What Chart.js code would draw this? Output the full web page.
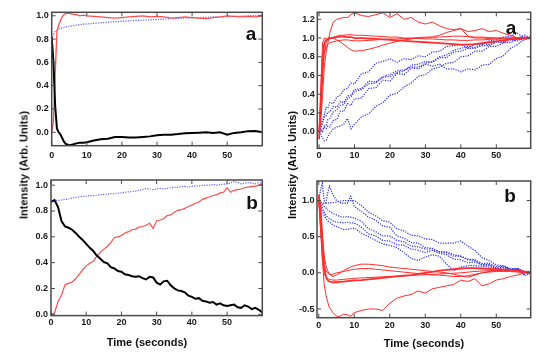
<!DOCTYPE html>
<html><head><meta charset="utf-8">
<script src="https://cdn.jsdelivr.net/npm/chart.js@4.4.1/dist/chart.umd.min.js"></script>
<style>
html,body{margin:0;padding:0;background:#fff;width:554px;height:355px;overflow:hidden;position:relative;}
canvas{position:absolute;}
.t{position:absolute;font-family:'Liberation Sans',Arial,Helvetica,sans-serif;font-weight:bold;color:#111;white-space:nowrap;line-height:1;}
.yt{font-size:11px;transform:translate(-50%,-50%) rotate(-90deg);}
.xt{font-size:11px;transform:translate(-50%,-50%);}
.lab{font-size:19px;transform:translate(-50%,-50%);}
</style></head><body>
<canvas id="c1" width="270" height="170" style="left:0;top:0"></canvas>
<canvas id="c2" width="270" height="185" style="left:0;top:170px"></canvas>
<canvas id="c3" width="274" height="170" style="left:280px;top:0"></canvas>
<canvas id="c4" width="274" height="185" style="left:280px;top:170px"></canvas>
<div class="t yt" style="left:24px;top:165px">Intensity (Arb. Units)</div>
<div class="t yt" style="left:292px;top:165px">Intensity (Arb. Units)</div>
<div class="t xt" style="left:147px;top:342px">Time (seconds)</div>
<div class="t xt" style="left:424px;top:343px">Time (seconds)</div>
<div class="t lab" style="left:251px;top:33px">a</div>
<div class="t lab" style="left:511px;top:27px">a</div>
<div class="t lab" style="left:252px;top:202px">b</div>
<div class="t lab" style="left:510px;top:195px">b</div>
<script>
// ---------- tick labels ----------
const xTicks = [0, 10, 20, 30, 40, 50];
const yTicksTL = [0.0, 0.2, 0.4, 0.6, 0.8, 1.0];
const yTicksBL = [0.0, 0.2, 0.4, 0.6, 0.8, 1.0];
const yTicksTR = [0.0, 0.2, 0.4, 0.6, 0.8, 1.0, 1.2];
const yTicksBR = [-0.5, 0.0, 0.5, 1.0];

// ---------- panel a (left) ----------
const tA = [0,0.5,1,1.5,2,2.5,3,3.5,4,5,6,7,8,9,10,12,14,16,18,20,22,24,26,28,30,32,34,36,38,40,42,44,46,48,50,52,54,56,58,60];
const tlRed = [0,0.1,0.5,0.87,0.92,0.96,0.99,1.01,1.02,1.02,1.015,1.01,1.0,1.005,1.0,0.995,0.99,0.985,0.98,0.985,0.99,0.995,1.0,0.99,0.995,0.99,0.98,0.985,0.99,0.985,0.98,0.975,0.985,0.99,1.0,0.995,0.99,0.995,0.99,1.0];
const tlBlue = [0.80,0.84,0.865,0.875,0.885,0.89,0.895,0.9,0.905,0.91,0.915,0.92,0.925,0.928,0.93,0.935,0.94,0.945,0.95,0.953,0.956,0.96,0.962,0.965,0.968,0.972,0.975,0.978,0.98,0.982,0.985,0.987,0.99,0.99,0.992,0.995,0.997,1.0,1.002,1.005];
const tlBlack = [0.82,0.6,0.22,0.03,0.0,-0.02,-0.05,-0.08,-0.1,-0.11,-0.105,-0.095,-0.09,-0.09,-0.085,-0.07,-0.06,-0.055,-0.04,-0.04,-0.045,-0.045,-0.04,-0.035,-0.025,-0.02,-0.02,-0.015,-0.008,-0.005,-0.003,0.0,-0.005,0.0,-0.02,-0.005,0.0,0.01,0.012,0.0];

// ---------- panel b (left) ----------
const tB = [0,1,2,3,4,5,6,7,8,9,10,11,12,13,14,15,16,17,18,19,20,21,22,23,24,25,26,27,28,29,30,31,32,33,34,35,36,37,38,39,40,41,42,43,44,45,46,47,48,49,50,51,52,53,54,55,56,57,58,59,60];
const blBlack = [0.87,0.885,0.83,0.72,0.68,0.67,0.655,0.63,0.6,0.575,
  0.545,0.515,0.49,0.455,0.43,0.405,0.395,0.365,0.355,0.335,
  0.33,0.31,0.305,0.295,0.29,0.295,0.28,0.27,0.29,0.285,
  0.245,0.23,0.255,0.26,0.225,0.2,0.185,0.18,0.17,0.145,
  0.135,0.12,0.125,0.105,0.1,0.09,0.095,0.075,0.085,0.07,
  0.065,0.07,0.075,0.055,0.05,0.07,0.06,0.04,0.05,0.035,0.015];
const blRed = [0.0,0.01,0.1,0.15,0.23,0.24,0.25,0.275,0.31,0.345,
  0.375,0.395,0.41,0.45,0.48,0.505,0.525,0.555,0.595,0.6,
  0.61,0.63,0.64,0.655,0.66,0.675,0.68,0.69,0.705,0.665,
  0.725,0.73,0.74,0.765,0.77,0.79,0.805,0.81,0.82,0.835,
  0.845,0.86,0.87,0.89,0.9,0.91,0.92,0.925,0.94,0.945,
  0.98,0.945,0.96,0.965,0.97,0.98,0.985,0.99,0.99,1.0,1.01];
const blBlue = [0.875,0.88,0.882,0.885,0.89,0.893,0.9,0.905,0.91,0.912,
  0.915,0.92,0.918,0.922,0.925,0.928,0.93,0.935,0.932,0.938,
  0.94,0.945,0.948,0.95,0.955,0.96,0.965,0.975,0.97,0.965,
  0.97,0.975,0.972,0.975,0.98,0.985,0.982,0.99,0.99,0.985,
  0.99,0.995,0.993,0.998,1.0,1.0,1.005,1.0,1.005,1.008,
  1.01,1.015,1.03,1.02,1.01,1.015,1.02,1.015,1.01,1.02,1.015];

// ---------- right panels ----------
const tR = [0,0.5,1,1.5,2,2.5,3,4,5,6,7,8,9,10,12,14,16,18,20,22,24,26,28,30,32,34,36,38,40,42,44,46,48,50,52,54,56,58,60];
const trRed1 = [0,0.1,0.4,0.7,0.85,0.95,1.05,1.17,1.2,1.21,1.22,1.22,1.25,1.27,1.24,1.23,1.25,1.27,1.22,1.26,1.2,1.22,1.17,1.15,1.17,1.13,1.1,1.09,1.1,1.07,1.08,1.1,1.07,1.08,1.05,1.03,1.0,1.01,1.0];
const trRed2 = [0,0.2,0.6,0.85,0.95,1.0,1.0,1.0,0.98,0.96,0.93,0.9,0.875,0.86,0.865,0.88,0.9,0.925,0.945,0.965,0.98,0.99,1.0,1.0,1.01,1.03,1.06,1.08,1.1,1.02,1.0,1.0,0.995,1.0,1.0,1.0,1.0,1.0,1.0];
const trRed3 = [0,0.5,0.95,1.0,0.99,0.98,0.99,1.01,1.02,1.03,1.03,1.035,1.035,1.03,1.03,1.025,1.02,1.015,1.01,1.01,1.0,1.0,1.005,1.01,1.01,1.01,1.015,1.02,1.02,1.015,1.01,1.01,1.005,1.0,1.0,1.0,1.0,1.0,1.0];
const trRed4 = [0,0.3,0.7,0.85,0.9,0.93,0.95,0.96,0.97,0.975,0.98,0.98,0.975,0.97,0.97,0.975,0.98,0.985,0.99,0.99,0.995,0.995,0.995,0.99,0.99,0.985,0.98,0.98,0.975,0.975,0.98,0.98,0.985,0.99,0.99,0.995,1.0,1.0,1.0];
const trRed5 = [-0.08,0.3,0.8,0.95,0.98,0.99,1.0,1.0,1.01,1.015,1.015,1.01,1.01,1.0,1.0,0.995,0.99,0.985,0.98,0.975,0.97,0.965,0.96,0.955,0.95,0.945,0.94,0.935,0.93,0.93,0.935,0.945,0.955,0.965,0.975,0.985,0.99,1.0,1.0];
const trBlue1 = [0,0.04,0.12,0.18,0.26,0.25,0.31,0.3,0.37,0.39,0.45,0.46,0.52,0.51,0.62,0.64,0.73,0.75,0.78,0.74,0.78,0.77,0.81,0.8,0.85,0.86,0.91,0.92,0.93,0.89,0.94,0.93,0.97,0.98,1.01,1.02,1.05,1.0,1.0];
const trBlue2 = [0,-0.03,-0.07,-0.1,-0.09,-0.05,-0.02,0.03,0.05,0.06,0.08,0.14,0.03,0.08,0.16,0.19,0.27,0.31,0.39,0.41,0.48,0.52,0.59,0.61,0.67,0.69,0.73,0.74,0.8,0.81,0.86,0.86,0.91,0.91,0.95,0.95,0.99,0.98,1.0];
const trBlue3 = [0,0.02,0.0,0.05,0.03,0.06,0.05,0.12,0.13,0.22,0.22,0.3,0.28,0.35,0.36,0.46,0.47,0.55,0.54,0.62,0.61,0.68,0.67,0.72,0.7,0.72,0.67,0.67,0.64,0.67,0.66,0.71,0.72,0.78,0.81,0.89,0.93,0.99,1.0];
const trBlue4 = [0,0.06,0.09,0.16,0.17,0.21,0.21,0.27,0.26,0.32,0.31,0.38,0.39,0.45,0.46,0.54,0.53,0.58,0.59,0.63,0.65,0.71,0.72,0.75,0.74,0.79,0.79,0.85,0.86,0.89,0.89,0.92,0.92,0.96,0.96,1.0,1.0,1.03,1.0];
const trBlue5 = [0,0.01,0.02,0.06,0.07,0.13,0.14,0.21,0.23,0.28,0.29,0.35,0.37,0.43,0.45,0.51,0.52,0.59,0.61,0.65,0.66,0.69,0.69,0.73,0.75,0.8,0.82,0.87,0.89,0.91,0.9,0.94,0.93,0.96,0.95,0.98,0.97,1.01,1.0];

const brRed1 = [1.0,0.7,0.2,-0.15,-0.3,-0.4,-0.48,-0.55,-0.6,-0.6,-0.57,-0.58,-0.6,-0.55,-0.52,-0.5,-0.5,-0.52,-0.42,-0.35,-0.32,-0.3,-0.25,-0.28,-0.22,-0.2,-0.18,-0.16,-0.1,-0.12,-0.08,-0.18,-0.15,-0.1,-0.08,-0.05,-0.03,0.0,0.01];
const brRed2 = [1.0,0.8,0.5,0.25,0.1,0.03,-0.02,-0.05,-0.03,0.0,0.03,0.06,0.08,0.1,0.12,0.12,0.11,0.1,0.08,0.07,0.06,0.05,0.04,0.03,0.02,0.01,0.0,-0.02,-0.04,-0.06,-0.03,0.0,0.02,0.03,0.03,0.03,0.02,0.02,0.01];
const brRed3 = [1.0,0.6,0.3,0.1,0.03,0.0,-0.02,-0.02,0.0,0.01,0.02,0.03,0.04,0.05,0.06,0.06,0.05,0.04,0.03,0.02,0.01,0.0,-0.01,-0.02,-0.03,-0.03,-0.04,-0.05,-0.05,-0.04,-0.02,0.0,0.01,0.02,0.02,0.02,0.01,0.0,0.0];
const brRed4 = [1.05,0.6,0.2,0.0,-0.06,-0.08,-0.09,-0.1,-0.1,-0.095,-0.09,-0.085,-0.08,-0.075,-0.07,-0.065,-0.06,-0.055,-0.05,-0.045,-0.04,-0.035,-0.03,-0.025,-0.02,-0.015,-0.01,-0.005,0.0,0.01,0.02,0.025,0.03,0.035,0.03,0.03,0.025,0.02,0.02];
const brRed5 = [1.08,0.9,0.5,0.1,-0.05,-0.1,-0.12,-0.13,-0.13,-0.125,-0.12,-0.115,-0.11,-0.105,-0.1,-0.09,-0.08,-0.07,-0.06,-0.05,-0.04,-0.03,-0.015,0.0,0.015,0.03,0.04,0.05,0.06,0.065,0.065,0.06,0.055,0.05,0.045,0.04,0.03,0.015,0.0];
const brBlue1 = [1.0,1.15,1.24,1.0,0.97,1.1,1.2,1.08,1.0,0.97,0.96,0.96,1.06,0.92,0.85,0.77,0.73,0.65,0.63,0.51,0.48,0.42,0.41,0.35,0.34,0.29,0.29,0.25,0.23,0.19,0.18,0.13,0.13,0.09,0.09,0.05,0.06,0.02,0.0];
const brBlue2 = [1.0,0.98,0.97,0.96,0.96,0.96,0.97,0.97,0.98,0.99,1.0,1.0,1.0,1.0,0.93,0.84,0.79,0.72,0.7,0.61,0.58,0.52,0.51,0.47,0.46,0.41,0.41,0.41,0.44,0.37,0.31,0.21,0.17,0.11,0.1,0.06,0.05,0.01,0.0];
const brBlue3 = [1.0,0.97,0.95,0.92,0.9,0.87,0.85,0.82,0.8,0.78,0.77,0.78,0.77,0.76,0.71,0.61,0.57,0.51,0.51,0.45,0.43,0.37,0.36,0.33,0.33,0.29,0.28,0.23,0.23,0.18,0.17,0.11,0.11,0.07,0.08,0.05,0.06,0.01,0.0];
const brBlue4 = [1.0,0.95,0.9,0.85,0.8,0.77,0.75,0.72,0.7,0.7,0.69,0.7,0.69,0.69,0.63,0.54,0.51,0.45,0.44,0.39,0.38,0.33,0.31,0.28,0.31,0.27,0.25,0.19,0.18,0.14,0.15,0.11,0.11,0.06,0.07,0.04,0.05,-0.04,0.0];
const brBlue5 = [1.0,0.92,0.85,0.8,0.75,0.72,0.7,0.66,0.64,0.62,0.6,0.6,0.61,0.62,0.55,0.5,0.45,0.4,0.38,0.35,0.28,0.2,0.17,0.22,0.25,0.23,0.12,0.03,0.08,0.1,0.1,0.09,0.08,0.06,0.05,0.04,0.05,-0.02,0.0];

// ---------- drawing ----------
const FONT = {family: "'Liberation Sans', Arial, Helvetica, sans-serif", size: 9, weight: 'bold'};
function pts(t, v) { return t.map((x, i) => ({x: x, y: v[i]})); }
function line(t, v, color, w, dash) {
  return {data: pts(t, v), borderColor: color, borderWidth: w, borderDash: dash || [],
          pointRadius: 0, tension: 0, fill: false};
}
const framePlugin = {
  id: 'frame',
  afterDatasetsDraw(chart) {
    const {ctx, chartArea: a, scales: {x, y}} = chart;
    ctx.save();
    ctx.strokeStyle = '#4a4a4a';
    ctx.lineWidth = 1;
    ctx.beginPath();
    x.ticks.forEach(t => {
      const p = x.getPixelForValue(t.value);
      ctx.moveTo(p, a.bottom); ctx.lineTo(p, a.bottom - 4);
      ctx.moveTo(p, a.top); ctx.lineTo(p, a.top + 4);
    });
    y.ticks.forEach(t => {
      const p = y.getPixelForValue(t.value);
      ctx.moveTo(a.left, p); ctx.lineTo(a.left + 4, p);
      ctx.moveTo(a.right, p); ctx.lineTo(a.right - 4, p);
    });
    ctx.stroke();
    ctx.lineWidth = 1.5;
    ctx.strokeRect(a.left, a.top, a.right - a.left, a.bottom - a.top);
    ctx.restore();
  }
};
function panel(id, p) {
  new Chart(document.getElementById(id), {
    type: 'line',
    data: {datasets: p.datasets},
    plugins: [framePlugin],
    options: {
      responsive: false, animation: false, events: [], devicePixelRatio: 1,
      layout: {padding: {left: 0, top: p.top, right: p.right, bottom: 0}},
      plugins: {legend: {display: false}, tooltip: {enabled: false}},
      scales: {
        x: {type: 'linear', min: p.xMin, max: p.xMax,
            grid: {display: false, drawTicks: false}, border: {display: false},
            afterBuildTicks: s => { s.ticks = xTicks.map(v => ({value: v})); },
            afterFit: s => { s.height = p.xH; },
            ticks: {font: FONT, color: '#1a1a1a', padding: p.xPad, maxRotation: 0, autoSkip: false,
                    callback: v => String(v)}},
        y: {type: 'linear', min: p.yMin, max: p.yMax,
            grid: {display: false, drawTicks: false}, border: {display: false},
            afterBuildTicks: s => { s.ticks = p.yTicks.map(v => ({value: v})); },
            afterFit: s => { s.width = p.yW; },
            ticks: {font: FONT, color: '#1a1a1a', padding: p.yPad, autoSkip: false,
                    callback: v => Number(v).toFixed(1)}}
      }
    }
  });
}
const RED_L = '#ff4d4d', BLUE_L = '#6060ff', RED_R = '#ff2d2d', BLUE_R = '#2b2bf0';
const DOT = [1.2, 1.3];

panel('c1', {top: 12.3, right: 7.7, yW: 51.7, xH: 24.3, xPad: 4, yPad: 3,
  xMin: 0, xMax: 60, yMin: -0.115, yMax: 1.03, yTicks: yTicksTL,
  datasets: [line(tA, tlBlack, '#000', 2), line(tA, tlRed, RED_L, 1.3), line(tA, tlBlue, BLUE_L, 1.2, DOT)]});
panel('c2', {top: 10, right: 7.7, yW: 51, xH: 39.4, xPad: 2, yPad: 3,
  xMin: 0, xMax: 60, yMin: -0.01, yMax: 1.04, yTicks: yTicksBL,
  datasets: [line(tB, blBlack, '#000', 2), line(tB, blRed, RED_L, 1.2), line(tB, blBlue, BLUE_L, 1.2, DOT)]});
panel('c3', {top: 12.3, right: 23.3, yW: 37.3, xH: 21.7, xPad: 2, yPad: 2.5,
  xMin: -0.5, xMax: 59.7, yMin: -0.178, yMax: 1.275, yTicks: yTicksTR,
  datasets: [line(tR, trRed5, RED_R, 1.8), line(tR, trRed1, RED_R, 1), line(tR, trRed2, RED_R, 1),
             line(tR, trRed3, RED_R, 1), line(tR, trRed4, RED_R, 1),
             line(tR, trBlue1, BLUE_R, 1.2, DOT), line(tR, trBlue2, BLUE_R, 1.2, DOT), line(tR, trBlue3, BLUE_R, 1.2, DOT),
             line(tR, trBlue4, BLUE_R, 1.2, DOT), line(tR, trBlue5, BLUE_R, 1.2, DOT)]});
panel('c4', {top: 11, right: 23.3, yW: 37, xH: 37.3, xPad: 2.5, yPad: 2.5,
  xMin: -0.5, xMax: 59.7, yMin: -0.62, yMax: 1.27, yTicks: yTicksBR,
  datasets: [line(tR, brRed5, RED_R, 1.8), line(tR, brRed1, RED_R, 1), line(tR, brRed2, RED_R, 1),
             line(tR, brRed3, RED_R, 1), line(tR, brRed4, RED_R, 1),
             line(tR, brBlue1, BLUE_R, 1.2, DOT), line(tR, brBlue2, BLUE_R, 1.2, DOT), line(tR, brBlue3, BLUE_R, 1.2, DOT),
             line(tR, brBlue4, BLUE_R, 1.2, DOT), line(tR, brBlue5, BLUE_R, 1.2, DOT)]});
</script>
</body></html>
